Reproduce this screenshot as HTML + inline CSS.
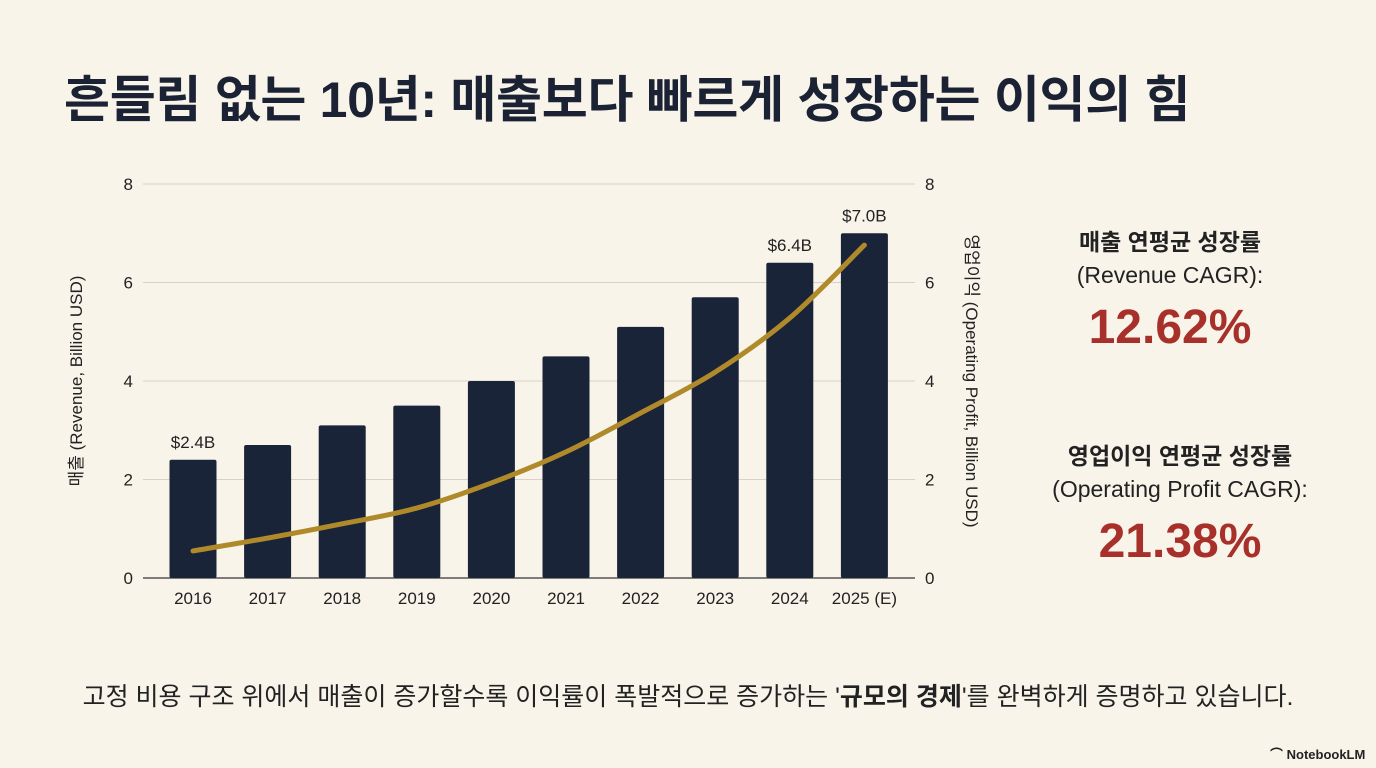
<!DOCTYPE html>
<html><head><meta charset="utf-8"><style>
body{margin:0;width:1376px;height:768px;background:#f8f4ea;font-family:"Liberation Sans","Noto Sans CJK KR",sans-serif;position:relative;overflow:hidden;color:#1b2233}
.t{position:absolute;white-space:nowrap}
</style></head><body>
<div class="t" style="left:64px;top:60px;font-size:50px;font-weight:700;color:#1a2233;letter-spacing:-0.3px">흔들림 없는 10년: 매출보다 빠르게 성장하는 이익의 힘</div>
<svg id="chart" width="1376" height="768" style="position:absolute;left:0;top:0"></svg>
<div class="t" style="left:1000px;top:226px;width:340px;text-align:center;font-size:23px;line-height:33px;color:#222"><b>매출 연평균 성장률</b><br>(Revenue CAGR):</div>
<div class="t" style="left:1000px;top:300px;width:340px;text-align:center;font-size:48px;font-weight:700;color:#a8302a">12.62%</div>
<div class="t" style="left:995px;top:440px;width:370px;text-align:center;font-size:23px;line-height:33px;color:#222"><b>영업이익 연평균 성장률</b><br>(Operating Profit CAGR):</div>
<div class="t" style="left:995px;top:514px;width:370px;text-align:center;font-size:48px;font-weight:700;color:#a8302a">21.38%</div>
<div class="t" style="left:0;width:1376px;top:677px;text-align:center;font-size:25px;color:#222">고정 비용 구조 위에서 매출이 증가할수록 이익률이 폭발적으로 증가하는 '<b>규모의 경제</b>'를 완벽하게 증명하고 있습니다.</div>
<div class="t" style="left:1270px;top:744px;font-size:13px;font-weight:700;color:#222">⌒ NotebookLM</div>
<script>
const years=["2016","2017","2018","2019","2020","2021","2022","2023","2024","2025 (E)"];
const revenue=[2.4,2.7,3.1,3.5,4.0,4.5,5.1,5.7,6.4,7.0];
const profit=[0.55,0.81,1.1,1.42,1.93,2.56,3.35,4.18,5.28,6.76];
const ticks=[0,2,4,6,8];
const barLabels={0:"$2.4B",8:"$6.4B",9:"$7.0B"};
const svg=document.getElementById('chart');const NS="http://www.w3.org/2000/svg";
const x0=155.7,bw=74.6,yb=578,yt=184,ymax=8;
const y=v=>yb-(v/ymax)*(yb-yt);const xc=i=>x0+bw*(i+0.5);
function mk(t,a,txt){const e=document.createElementNS(NS,t);for(const k in a)e.setAttribute(k,a[k]);if(txt!=null)e.textContent=txt;svg.appendChild(e);return e;}
ticks.forEach(t=>{
 const g=mk('line',{x1:143,x2:915,y1:y(t),y2:y(t),stroke:t===0?'#555':'#d6d2c8','stroke-width':t===0?1.5:1});
 
 
 const l=mk('text',{x:133,y:y(t)+6,'text-anchor':'end','font-size':17,fill:'#222'},t);
 
 
 const r=mk('text',{x:925,y:y(t)+6,'font-size':17,fill:'#222'},t);
 
 
});
revenue.forEach((v,i)=>{
 const b=mk('rect',{x:xc(i)-23.5,y:y(v),width:47,height:yb-y(v),fill:'#1a2438',rx:2});
 
 
 const t=mk('text',{x:xc(i),y:yb+26,'text-anchor':'middle','font-size':17,fill:'#222'},years[i]);
 
 
 if(barLabels[i]){const l=mk('text',{x:xc(i),y:y(v)-12,'text-anchor':'middle','font-size':17,fill:'#222'},barLabels[i]);
 
 }
});
const P=profit.map((v,i)=>[xc(i),y(v)]);
let d=`M${P[0][0]},${P[0][1]}`;
for(let i=0;i<P.length-1;i++){const p0=P[Math.max(0,i-1)],p1=P[i],p2=P[i+1],p3=P[Math.min(P.length-1,i+2)];
 d+=` C${p1[0]+(p2[0]-p0[0])/6},${p1[1]+(p2[1]-p0[1])/6} ${p2[0]-(p3[0]-p1[0])/6},${p2[1]-(p3[1]-p1[1])/6} ${p2[0]},${p2[1]}`;}
const ln=mk('path',{d:d,fill:'none',stroke:'#b08a2a','stroke-width':5,'stroke-linecap':'round'});


const yl=mk('text',{x:0,y:0,transform:'translate(82,381) rotate(-90)','text-anchor':'middle','font-size':17,fill:'#222'},'매출 (Revenue, Billion USD)');


const yr=mk('text',{x:0,y:0,transform:'translate(966,381) rotate(90)','text-anchor':'middle','font-size':17,fill:'#222'},'영업이익 (Operating Profit, Billion USD)');


</script>
</body></html>
